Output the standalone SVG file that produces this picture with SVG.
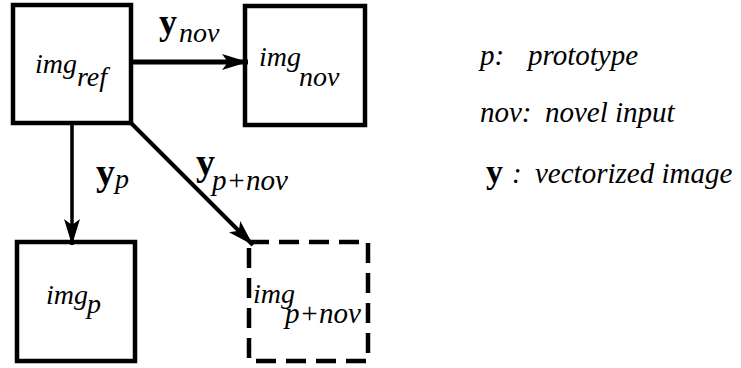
<svg xmlns="http://www.w3.org/2000/svg" width="741" height="368" viewBox="0 0 741 368">
<style>
.box{fill:none;stroke:#000;stroke-width:4.5}
.dash{stroke-dasharray:20 10}
.c{stroke:#000;fill:none}
</style>
<defs>
<marker id="ah2" viewBox="0 0 26 16" refX="26" refY="8" markerWidth="26" markerHeight="16" orient="auto" markerUnits="userSpaceOnUse">
<path d="M0,0 L26,8 L0,16 L6,8 Z" fill="#000"/>
</marker>
</defs>
<g id="connectors">
<line class="c" x1="131" y1="62" x2="248" y2="62" stroke-width="5" marker-end="url(#ah2)"/>
<line class="c" x1="72" y1="124" x2="72" y2="245" stroke-width="3.5" marker-end="url(#ah2)"/>
<line class="c" x1="131" y1="123" x2="253" y2="245" stroke-width="4" marker-end="url(#ah2)"/>
<text font-family="Liberation Serif" font-weight="bold" font-size="36" x="159" y="34">y</text><text font-family="Liberation Serif" font-style="italic" font-size="28" x="179" y="42">nov</text>
<text font-family="Liberation Serif" font-weight="bold" font-size="38" x="96" y="185">y</text><text font-family="Liberation Serif" font-style="italic" font-size="28" x="115" y="188">p</text>
<text font-family="Liberation Serif" font-weight="bold" font-size="38" x="196" y="175">y</text><text font-family="Liberation Serif" font-style="italic" font-size="29" x="212" y="190">p+nov</text>
</g>
<g id="img_ref">
<rect class="box" x="13" y="5" width="118" height="118"/>
<text font-family="Liberation Serif" font-style="italic" font-size="28" x="35" y="73">img</text><text font-family="Liberation Serif" font-style="italic" font-size="28" x="77" y="86">ref</text>
</g>
<g id="img_nov">
<rect class="box" x="245" y="6" width="120" height="119"/>
<text font-family="Liberation Serif" font-style="italic" font-size="28" x="259" y="66">img</text><text font-family="Liberation Serif" font-style="italic" font-size="28" x="299" y="86">nov</text>
</g>
<g id="img_p">
<rect class="box" x="17" y="242" width="118" height="119"/>
<text font-family="Liberation Serif" font-style="italic" font-size="28" x="46" y="304">img</text><text font-family="Liberation Serif" font-style="italic" font-size="28" x="87" y="313">p</text>
</g>
<g id="img_p_nov">
<rect class="box dash" x="249" y="242" width="119" height="119"/>
<text font-family="Liberation Serif" font-style="italic" font-size="28" x="253" y="303">img</text><text font-family="Liberation Serif" font-style="italic" font-size="29" x="285" y="323">p+nov</text>
</g>
<g id="legend">
<text font-family="Liberation Serif" font-style="italic" font-size="29" x="480" y="65">p:</text><text font-family="Liberation Serif" font-style="italic" font-size="29" x="528" y="65">prototype</text>
<text font-family="Liberation Serif" font-style="italic" font-size="29" x="480" y="122">nov:</text><text font-family="Liberation Serif" font-style="italic" font-size="29" x="545" y="122">novel input</text>
<text font-family="Liberation Serif" font-weight="bold" font-size="34" x="486" y="183">y</text><text font-family="Liberation Serif" font-style="italic" font-size="29" x="512" y="183">:</text><text font-family="Liberation Serif" font-style="italic" font-size="29" x="535" y="183">vectorized image</text>
</g>
</svg>
